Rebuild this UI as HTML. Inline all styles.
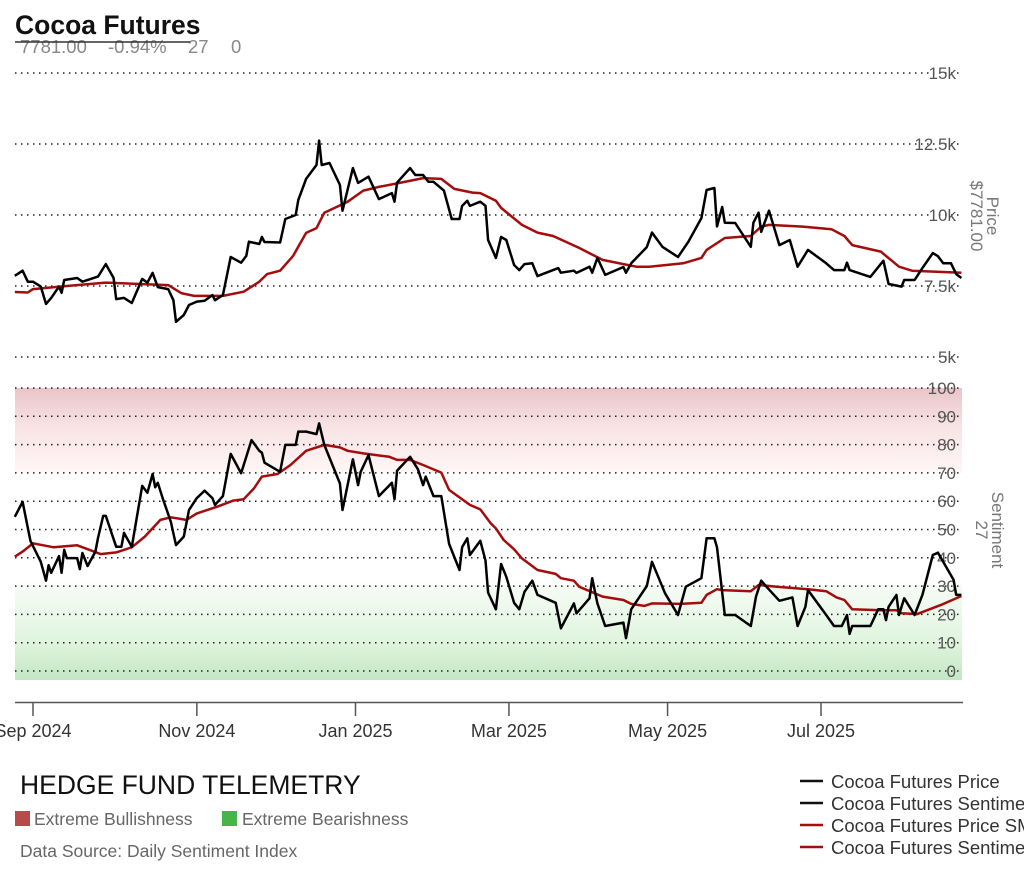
<!DOCTYPE html>
<html><head><meta charset="utf-8"><style>
body{margin:0;background:#fff;font-family:"Liberation Sans",Arial,sans-serif;}
svg{display:block}
</style></head><body>
<svg id="chart" width="1024" height="878" viewBox="0 0 1024 878" font-family="Liberation Sans, Arial, sans-serif">
<defs>
<linearGradient id="redg" x1="0" y1="0" x2="0" y2="1"><stop offset="0" stop-color="#e9c4c8"/><stop offset="0.45" stop-color="#f8e3e4"/><stop offset="1" stop-color="#fff6f6"/></linearGradient>
<linearGradient id="greeng" x1="0" y1="0" x2="0" y2="1"><stop offset="0" stop-color="#f6fcf5"/><stop offset="0.6" stop-color="#e0f4de"/><stop offset="1" stop-color="#c3e7c5"/></linearGradient>
</defs>
<rect x="15" y="388" width="947" height="85" fill="url(#redg)"/>
<rect x="15" y="585" width="947" height="95" fill="url(#greeng)"/>
<g id="grid"></g>
<g id="series"></g>
<text x="15" y="34" font-size="26.5" font-weight="bold" fill="#111">Cocoa Futures</text>
<g font-size="18.5" fill="#888">
<text x="20" y="53">7781.00</text><text x="108" y="53">-0.94%</text><text x="188" y="53">27</text><text x="231" y="53">0</text>
</g>
<line x1="15" y1="42" x2="190" y2="42" stroke="#333" stroke-width="1.5"/>
<text transform="translate(987,216) rotate(90)" text-anchor="middle" font-size="17" fill="#777"><tspan x="0" dy="0">Price</tspan><tspan x="0" dy="16">$7781.00</tspan></text>
<text transform="translate(992,530) rotate(90)" text-anchor="middle" font-size="17" fill="#777"><tspan x="0" dy="0">Sentiment</tspan><tspan x="0" dy="16">27</tspan></text>
<line x1="15" y1="702.5" x2="963" y2="702.5" stroke="#555" stroke-width="1.5"/>
<g id="xaxis"></g>
<text x="20" y="794" font-size="26.5" fill="#111">HEDGE FUND TELEMETRY</text>
<rect x="15" y="811" width="15" height="15" fill="#b94a4a"/>
<text x="34" y="825" font-size="17.5" fill="#666">Extreme Bullishness</text>
<rect x="222" y="811" width="15" height="15" fill="#45b547"/>
<text x="242" y="825" font-size="17.5" fill="#666">Extreme Bearishness</text>
<text x="20" y="857" font-size="17.5" fill="#666">Data Source: Daily Sentiment Index</text>
<g>
<line x1="800" y1="781" x2="823" y2="781" stroke="#111" stroke-width="2.5"/><text x="831" y="788" font-size="18.5" fill="#333">Cocoa Futures Price</text>
<line x1="800" y1="803" x2="823" y2="803" stroke="#111" stroke-width="2.5"/><text x="831" y="810" font-size="18.5" fill="#333">Cocoa Futures Sentiment</text>
<line x1="800" y1="825" x2="823" y2="825" stroke="#a30d0d" stroke-width="2.5"/><text x="831" y="832" font-size="18.5" fill="#333">Cocoa Futures Price SMA</text>
<line x1="800" y1="847" x2="823" y2="847" stroke="#a30d0d" stroke-width="2.5"/><text x="831" y="854" font-size="18.5" fill="#333">Cocoa Futures Sentiment SMA</text>
</g>
</svg>
<script>
// days since 2024-09-01
const priceDays=[-7,-4,-2,0,3,5,7,10,11,12,17,19,25,28,31,32,35,38,42,44,46,48,52,54,55,58,60,63,66,69,70,73,76,80,82,83,87,88,89,95,97,101,102,105,109,110,111,114,118,119,123,125,129,133,138,139,140,145,147,150,152,154,158,161,164,165,167,168,172,174,175,178,180,182,185,187,189,192,194,202,203,208,209,214,215,217,220,227,228,230,236,238,242,248,252,257,259,262,263,265,266,270,276,277,279,280,283,287,291,294,298,305,308,312,313,314,322,327,329,334,335,339,342,346,348,350,353,355,357];
const priceValues=[7.86,8.04,7.65,7.65,7.48,6.87,7.08,7.48,7.26,7.71,7.78,7.65,7.83,8.27,7.78,7.04,7.08,6.9,7.75,7.62,7.96,7.46,7.39,7.0,6.24,6.48,6.83,6.95,6.98,7.18,7.0,7.18,8.52,8.32,8.56,9.06,8.98,9.23,9.05,9.03,9.86,10.0,10.53,11.27,11.76,12.62,11.76,11.83,11.06,10.15,11.65,11.13,11.35,10.56,10.77,10.47,11.14,11.65,11.41,11.41,11.17,11.17,10.86,9.86,9.86,10.32,10.5,10.32,10.47,10.32,9.12,8.49,9.23,9.12,8.24,8.06,8.27,8.3,7.85,8.13,7.97,8.04,7.96,8.18,7.97,8.49,7.89,8.17,7.97,8.3,8.87,9.38,8.88,8.52,9.06,9.89,10.88,10.95,9.6,10.28,9.73,9.72,8.88,9.73,10.08,9.41,10.15,8.94,9.12,8.18,8.77,8.3,8.06,8.06,8.32,8.06,7.82,8.39,7.57,7.48,7.71,7.71,8.13,8.66,8.55,8.3,8.3,7.92,7.78];
const priceSmaDays=[-7,-2,0,13,28,41,52,57,62,73,81,87,90,95,100,105,109,112,121,127,133,141,150,157,162,169,172,178,180,188,194,200,210,219,227,232,237,250,257,259,266,276,280,283,296,307,312,315,326,333,338,357];
const priceSmaValues=[7.29,7.27,7.39,7.5,7.62,7.57,7.53,7.25,7.15,7.15,7.3,7.65,7.92,8.04,8.56,9.37,9.54,10.08,10.47,10.86,10.99,11.13,11.3,11.27,10.92,10.79,10.77,10.5,10.25,9.65,9.38,9.26,8.84,8.42,8.27,8.18,8.18,8.3,8.49,8.77,9.19,9.26,9.59,9.65,9.59,9.5,9.26,8.94,8.71,8.18,8.04,7.97];
const sentDays=[-7,-4,-1,3,5,6,7,10,11,12,13,17,18,19,21,24,25,27,28,32,34,35,38,42,44,46,47,48,50,53,55,58,60,63,66,69,70,73,76,80,82,84,87,88,89,95,97,101,102,105,109,110,112,118,119,123,125,126,129,133,138,139,140,145,148,150,151,154,157,160,164,165,167,168,172,174,175,178,180,182,185,187,189,192,194,201,203,208,209,214,215,217,220,227,228,230,236,238,243,248,251,257,259,262,263,266,270,276,278,280,282,287,292,294,297,298,305,308,311,313,314,315,322,325,327,328,329,332,333,335,339,342,346,348,354,355,357];
const sentValues=[54.5,59.8,46,38.6,31.9,37.4,34.7,40.6,34.7,42.8,39.9,39.9,36,41.7,37.1,42.2,47,54.8,54.8,43.9,43.9,48.8,43.9,65.4,63,69.6,64.9,66.5,60.7,52.8,44.5,47.5,56.9,61.1,63.7,61.1,58.7,61.8,76.7,69.9,75.7,81.6,77.8,77.1,73.6,70.4,79.9,79.9,84.6,84.6,83.7,87.5,79.9,66.3,56.9,74.8,65.7,70.4,76.3,61.8,66.5,60.7,70.8,75.7,71.3,65.7,68.7,61.8,61.8,44.9,35.7,43.7,46.9,41,46,39,27.7,21.8,37.8,33.3,24.1,21.8,28,31.9,26.9,24.1,15.1,23.9,20.4,25.7,32.8,23.9,15.9,17.1,11.6,21.8,30,38.6,27.5,19.8,29.8,32.8,46.9,46.9,43.7,19.8,19.8,15.9,26.3,31.9,29.8,24.8,26,15.9,22.7,28.6,19.8,15.9,15.9,19.8,13.1,15.9,15.9,21.8,21.8,18,22.7,26.9,19.8,25.7,19.8,26.9,41,41.8,32.2,26.9,26.9];
const sentSmaDays=[-7,-4,0,4,8,17,26,32,38,43,49,53,59,63,71,77,81,85,88,94,99,105,112,118,121,127,137,140,145,150,157,160,168,172,176,178,181,185,188,194,201,203,208,210,219,227,230,235,238,249,257,259,263,265,276,279,286,298,305,309,312,315,326,332,334,340,349,357];
const sentSmaValues=[40.4,42.2,45.1,44.4,43.7,44.4,41.3,41.9,43.7,47.5,53.4,54.3,53.4,55.7,58.1,60.2,60.7,64.6,68.7,69.6,72.8,77.8,79.9,79,77.8,76.9,75.7,74.6,74.6,72.8,70.1,64,58.7,57.1,52.2,50.4,46.3,43,39.8,35.7,34.3,32.8,31.9,29.8,26.3,25.1,23.7,23,23.9,23.7,24.1,26.9,28.9,28.6,28.2,30.4,29.8,28.9,28.2,26,25.1,21.8,21.5,21.5,20.4,20.1,23.3,26.5];
const priceTicks=[5,7.5,10,12.5,15];
const priceTickLabels=["5k","7.5k","10k","12.5k","15k"];
const sentTicks=[0,10,20,30,40,50,60,70,80,90,100];
const monthDays=[0,63,124,183,244,303];
const monthLabels=["Sep 2024","Nov 2024","Jan 2025","Mar 2025","May 2025","Jul 2025"];

const NS="http://www.w3.org/2000/svg";
const xS=d=>33+d*2.6007;
const yP=v=>286-(v-7.5)*28.4;
const yS=v=>671-v*2.83;
function mk(tag,attrs,parent,text){const e=document.createElementNS(NS,tag);for(const k in attrs)e.setAttribute(k,attrs[k]);if(text!==undefined)e.textContent=text;parent.appendChild(e);return e;}
const grid=document.getElementById('grid'),ser=document.getElementById('series'),xa=document.getElementById('xaxis');
priceTicks.forEach((t,i)=>{const y=yP(t);
 const l=mk('line',{x1:15,y1:y,x2:960,y2:y,stroke:'#222','stroke-width':1.5,'stroke-dasharray':'1.5 4.5'},grid);
 
 
 const tx=mk('text',{x:956,y:y+6,'text-anchor':'end','font-size':17,fill:'#555'},grid,priceTickLabels[i]);
 
 
});
sentTicks.forEach(t=>{const y=yS(t);
 const l=mk('line',{x1:15,y1:y,x2:960,y2:y,stroke:'#222','stroke-width':1.5,'stroke-dasharray':'1.5 4.5'},grid);
 
 
 const tx=mk('text',{x:956,y:y+6,'text-anchor':'end','font-size':17,fill:'#555'},grid,String(t));
 
 
});
monthDays.forEach((d,i)=>{const x=xS(d);
 const tk=mk('line',{x1:x,y1:702,x2:x,y2:716,stroke:'#555','stroke-width':1.5},xa);
 
 
 const tx=mk('text',{x:x,y:737,'text-anchor':'middle','font-size':18,fill:'#333'},xa,monthLabels[i]);
 
 
});
function line(days,vals,yf,color,name){
 const d=days.map((dd,i)=>(i?'L':'M')+xS(dd).toFixed(1)+','+yf(vals[i]).toFixed(1)).join('');
 const p=mk('path',{d:d,fill:'none',stroke:color,'stroke-width':2.5,'stroke-linejoin':'round'},ser);
 
 
}
line(priceSmaDays,priceSmaValues,yP,'#a30d0d','price-sma-line');
line(priceDays,priceValues,yP,'#000','price-line');
line(sentSmaDays,sentSmaValues,yS,'#a30d0d','sentiment-sma-line');
line(sentDays,sentValues,yS,'#000','sentiment-line');
</script>
</body></html>
